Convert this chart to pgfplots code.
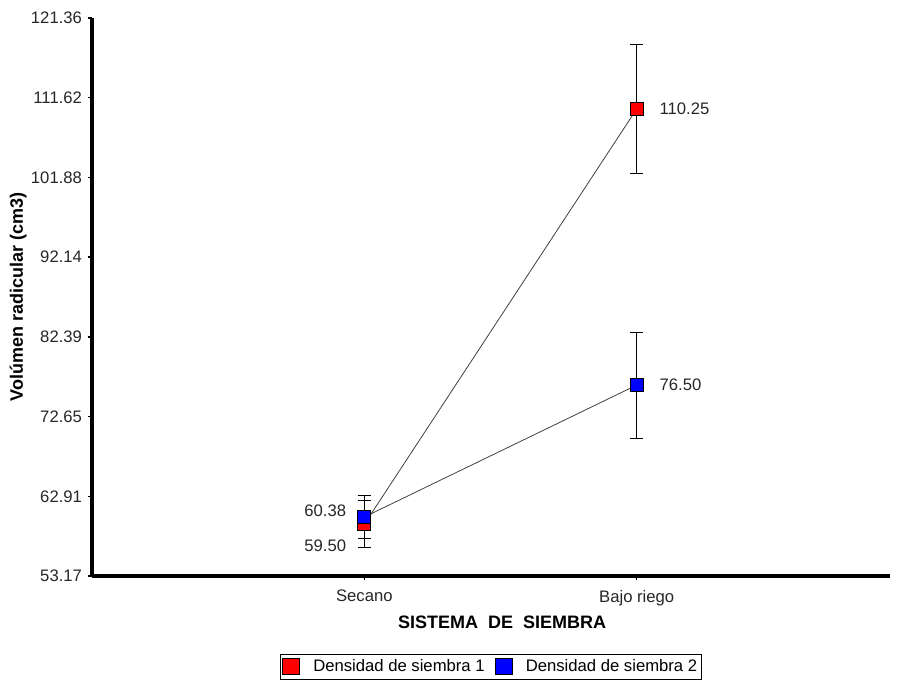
\documentclass[border=0pt]{standalone}
\usepackage{pgfplots}
\pgfplotsset{compat=1.18}
\usepackage{fontspec}
\setmainfont{Liberation Sans}
\newcommand{\tfont}{\fontsize{12.5}{14}\selectfont}
\newcommand{\lfont}{\fontsize{13.5}{16}\selectfont\bfseries}
\begin{document}
\begin{tikzpicture}
\begin{axis}[
  name=ax,
  scale only axis,
  width=598.5pt, height=418.5pt,
  xmin=-1, xmax=1.93,
  ymin=53.17, ymax=121.36,
  axis x line*=bottom, axis y line*=left,
  axis line style={line width=3pt, -},
  xtick={0,1}, xticklabels={Secano, Bajo riego},
  ytick={53.17,62.91,72.65,82.39,92.14,101.88,111.62,121.36},
  yticklabels={53.17,62.91,72.65,82.39,92.14,101.88,111.62,121.36},
  /pgf/number format/assume math mode=true,
  tick style={black, line width=1pt},
  tick align=outside, major tick length=3pt,
  ticklabel style={font=\tfont, text=black!85},
  xticklabel style={yshift=-4pt},
  yticklabel style={xshift=-1pt},
  xlabel={SISTEMA~~DE~~SIEMBRA},
  ylabel={Volúmen radicular (cm3)},
  xlabel style={font=\lfont, at={(axis description cs:0.514,-0.0824)}, anchor=center},
  ylabel style={font=\lfont, at={(axis description cs:-0.0927,0.5)}, anchor=center},
  clip=false,
  legend style={at={(axis description cs:0.5,-0.1400)}, anchor=north,
    draw=black, line width=0.6pt, font=\tfont, legend columns=2,
    inner xsep=1pt, inner ysep=2pt,
    /tikz/every odd column/.append style={column sep=8pt},
    /tikz/every even column/.append style={column sep=5.5pt}},
  legend image code/.code={\draw[#1, line width=0.6pt] (0pt,-6pt) rectangle (12.75pt,6pt);},
]
\addlegendimage{fill=red, draw=black}
\addlegendentry{Densidad de siembra 1}
\addlegendimage{fill=blue, draw=black}
\addlegendentry{Densidad de siembra 2\hspace{3.75pt}}

\addplot[black!75, line width=0.6pt, mark=square*, mark size=4.9pt,
  mark options={fill=red, draw=black, line width=0.6pt, solid},
  error bars/.cd, y dir=both, y explicit, error mark=-,
  error bar style={black, line width=0.75pt},
  error mark options={black, rotate=90, mark size=5pt, line width=0.75pt}]
  coordinates {(0,59.50) +- (0,2.87) (1,110.25) +- (0,7.93)};
\addplot[black!75, line width=0.6pt, mark=square*, mark size=4.9pt,
  mark options={fill=blue, draw=black, line width=0.6pt, solid},
  error bars/.cd, y dir=both, y explicit, error mark=-,
  error bar style={black, line width=0.75pt},
  error mark options={black, rotate=90, mark size=5pt, line width=0.75pt}]
  coordinates {(0,60.38) +- (0,2.62) (1,76.50) +- (0,6.47)};

\addplot[draw=none, mark=none, nodes near coords, point meta=explicit symbolic,
  nodes near coords style={anchor=west, inner sep=0pt, xshift=17pt, font=\tfont, text=black!85}]
  coordinates {(1,110.25) [110.25] (1,76.50) [76.50]};
\addplot[draw=none, mark=none, nodes near coords, point meta=explicit symbolic,
  nodes near coords style={anchor=east, inner sep=0pt, xshift=-13.5pt, yshift=5pt, font=\tfont, text=black!85}]
  coordinates {(0,60.38) [60.38]};
\addplot[draw=none, mark=none, nodes near coords, point meta=explicit symbolic,
  nodes near coords style={anchor=east, inner sep=0pt, xshift=-13.5pt, yshift=-16pt, font=\tfont, text=black!85}]
  coordinates {(0,59.50) [59.50]};
\end{axis}
\pgfresetboundingbox
\path ([xshift=-69pt, yshift=13.5pt]ax.north west) rectangle ([xshift=9pt, yshift=-77.25pt]ax.south east);
\end{tikzpicture}
\end{document}
